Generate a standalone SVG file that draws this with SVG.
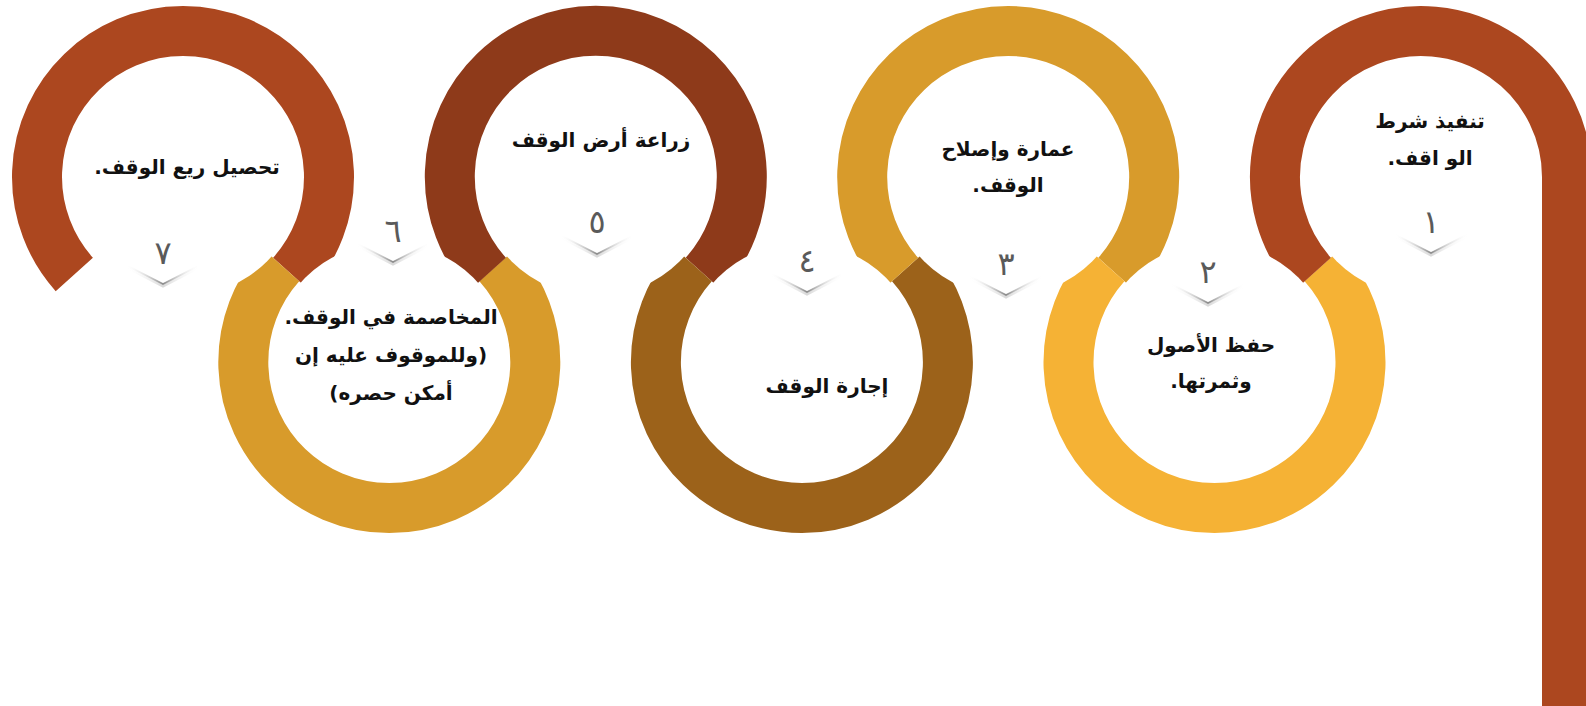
<svg xmlns="http://www.w3.org/2000/svg" width="1586" height="706" viewBox="0 0 1586 706">
<defs>
<linearGradient id="chev" x1="0" y1="0" x2="1" y2="0">
<stop offset="0" stop-color="#ffffff" stop-opacity="0"/>
<stop offset="0.5" stop-color="#8a8a8a"/>
<stop offset="1" stop-color="#ffffff" stop-opacity="0"/>
</linearGradient>
<linearGradient id="chevs" x1="0" y1="0" x2="1" y2="0">
<stop offset="0" stop-color="#ffffff" stop-opacity="0"/>
<stop offset="0.5" stop-color="#d8d8d8"/>
<stop offset="1" stop-color="#ffffff" stop-opacity="0"/>
</linearGradient>
</defs>
<style>
.ring{fill:none;stroke-width:50;stroke-linecap:butt}
.hole{fill:#ffffff}
.lbl{font-family:"DejaVu Sans","Noto Sans",sans-serif;font-weight:bold;font-size:20px;fill:#111;text-anchor:middle;direction:rtl}
.num{font-family:"DejaVu Sans","Noto Sans",sans-serif;font-size:32px;fill:#5a5a5a;text-anchor:middle}
.chev{fill:none;stroke:url(#chev);stroke-width:1.6}
.chevs{fill:none;stroke:url(#chevs);stroke-width:3}
</style>
<rect width="1586" height="706" fill="#ffffff"/>
<g id="connectors">
<path class="ring" stroke="#AC471F" d="M74.3 274.45 A146 146 0 1 1 291.7 274.45"/>
<path class="ring" stroke="#D89B2B" d="M498 264.55 A146 146 0 1 1 280.6 264.55"/>
<path class="ring" stroke="#8E3A1A" d="M487.3 274.45 A146 146 0 1 1 704.3 274.45"/>
<path class="ring" stroke="#9C621A" d="M910.6 264.55 A146 146 0 1 1 693.2 264.55"/>
<path class="ring" stroke="#D89B2B" d="M899.5 274.45 A146 146 0 1 1 1116.9 274.45"/>
<path class="ring" stroke="#F5B235" d="M1323.2 264.55 A146 146 0 1 1 1105.8 264.55"/>
<path class="ring" stroke="#AC471F" d="M1312.3 274.45 A146 146 0 1 1 1567 177 L1567 720"/>
<circle class="hole" cx="183" cy="177" r="119"/>
<circle class="hole" cx="389.3" cy="362" r="119"/>
<circle class="hole" cx="595.6" cy="177" r="119"/>
<circle class="hole" cx="801.9" cy="362" r="119"/>
<circle class="hole" cx="1008.2" cy="177" r="119"/>
<circle class="hole" cx="1214.5" cy="362" r="119"/>
<circle class="hole" cx="1420.8" cy="177" r="119"/>
</g>
<g id="step1">
<polyline class="chevs" points="1394,236 1431,255 1468,236"/>
<polyline class="chev" points="1394,234 1431,253 1468,234"/>
<text class="num" x="1431" y="233">١</text>
<text class="lbl" x="1430" y="128">تنفيذ شرط</text>
<text class="lbl" x="1430" y="165">الو اقف.</text>
</g>
<g id="step2">
<polyline class="chevs" points="1171,286 1208,305 1245,286"/>
<polyline class="chev" points="1171,284 1208,303 1245,284"/>
<text class="num" x="1208" y="283">٢</text>
<text class="lbl" x="1211" y="352">حفظ الأصول</text>
<text class="lbl" x="1211" y="388">وثمرتها.</text>
</g>
<g id="step3">
<polyline class="chevs" points="969,278 1006,297 1043,278"/>
<polyline class="chev" points="969,276 1006,295 1043,276"/>
<text class="num" x="1006" y="275">٣</text>
<text class="lbl" x="1008" y="156">عمارة وإصلاح</text>
<text class="lbl" x="1008" y="192">الوقف.</text>
</g>
<g id="step4">
<polyline class="chevs" points="770,275 807,294 844,275"/>
<polyline class="chev" points="770,273 807,292 844,273"/>
<text class="num" x="807" y="272">٤</text>
<text class="lbl" x="827" y="393">إجارة الوقف</text>
</g>
<g id="step5">
<polyline class="chevs" points="560,237 597,256 634,237"/>
<polyline class="chev" points="560,235 597,254 634,235"/>
<text class="num" x="597" y="233">٥</text>
<text class="lbl" x="601" y="147">زراعة أرض الوقف</text>
</g>
<g id="step6">
<polyline class="chevs" points="356,245 393,264 430,245"/>
<polyline class="chev" points="356,243 393,262 430,243"/>
<text class="num" x="393" y="242">٦</text>
<text class="lbl" x="391" y="324">المخاصمة في الوقف.</text>
<text class="lbl" x="391" y="362">(وللموقوف عليه إن</text>
<text class="lbl" x="391" y="400">أمكن حصره)</text>
</g>
<g id="step7">
<polyline class="chevs" points="126,267 163,286 200,267"/>
<polyline class="chev" points="126,265 163,284 200,265"/>
<text class="num" x="163" y="264">٧</text>
<text class="lbl" x="187" y="174">تحصيل ريع الوقف.</text>
</g>
</svg>
